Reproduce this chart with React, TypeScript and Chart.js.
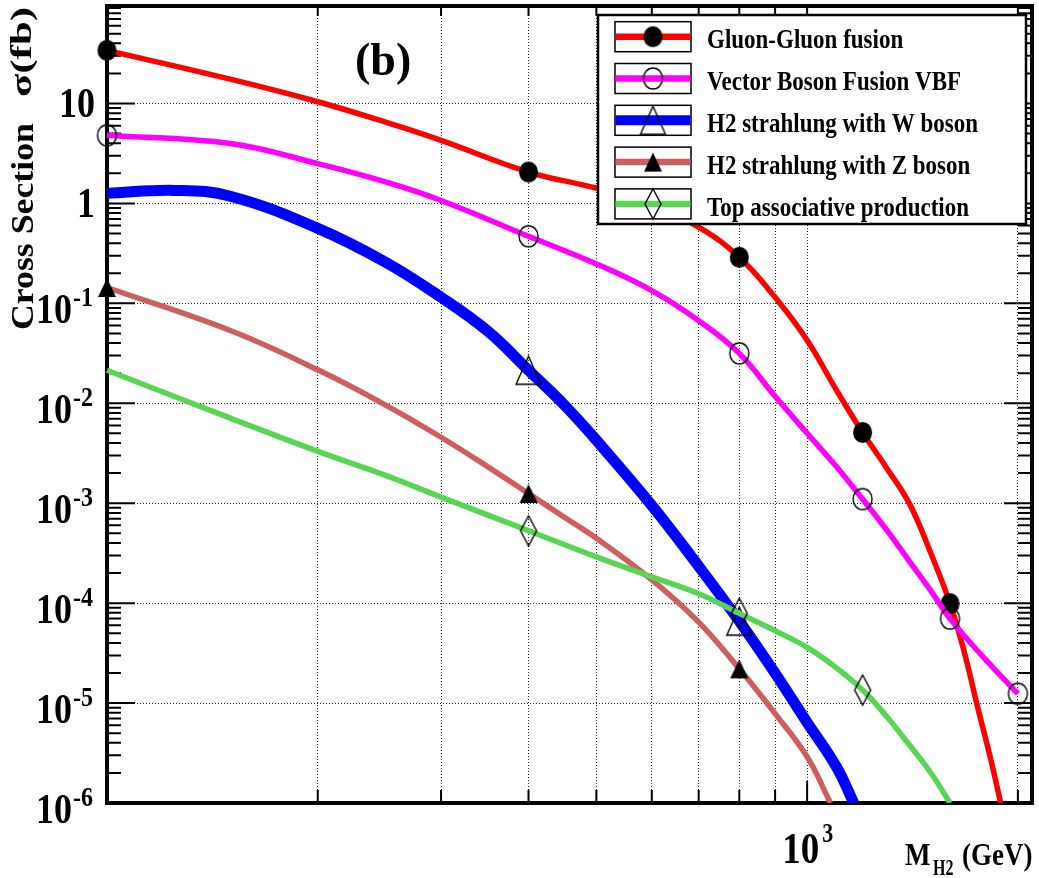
import React, { useEffect, useRef } from 'react';
import { Chart, registerables } from 'chart.js';

Chart.register(...registerables);

const CANVAS_W = 1039;
const CANVAS_H = 878;
const FONT = '"Liberation Serif", "Times New Roman", serif';

// ---- axes ----
const X_MIN = 100;
const X_MAX = 2095;
const Y_MIN = 1e-6;
const Y_MAX = 94.5;

const X_TICKS = [100, 200, 300, 400, 500, 600, 700, 800, 900, 1000, 2000];
const X_MAJOR_TICK = 1000;
const X_LABEL_BASE = '10';
const X_LABEL_EXP = '3';
const X_TITLE_MAIN = 'M';
const X_TITLE_SUB = 'H2';
const X_TITLE_UNIT = '(GeV)';

const Y_DECADES = [1e-6, 1e-5, 1e-4, 1e-3, 1e-2, 1e-1, 1, 10];
const Y_LABEL_BASE = ['10', '10', '10', '10', '10', '10', '1', '10'];
const Y_LABEL_EXP = ['-6', '-5', '-4', '-3', '-2', '-1', '', ''];
const Y_TITLE_MAIN = 'Cross Section';
const Y_TITLE_UNIT = 'σ(fb)';
const PANEL_TAG = '(b)';

// ---- series ----
const LABELS = [
  'Gluon-Gluon fusion',
  'Vector Boson Fusion VBF',
  'H2 strahlung with W boson',
  'H2 strahlung with Z boson',
  'Top associative production',
];

const GGF_MASS = [100, 150, 200, 250, 300, 400, 500, 600, 700, 800, 900, 1000, 1100, 1200, 1300, 1400, 1500, 1600, 1675, 1750, 1830, 1890];
const GGF_XSEC = [34, 17.5, 10.4, 6.5, 4.28, 2.06, 1.42, 0.95, 0.58, 0.289, 0.115, 0.0427, 0.0137, 0.0051, 0.00223, 9.9e-4, 3.23e-4, 9.9e-5, 3.33e-5, 9.4e-6, 2.7e-6, 1e-6];
const GGF_MARKS = [100, 400, 800, 1200, 1600];

const VBF_MASS = [100, 150, 200, 250, 300, 400, 500, 600, 700, 800, 900, 1000, 1100, 1200, 1300, 1400, 1500, 1600, 1800, 2000];
const VBF_XSEC = [4.8, 3.97, 2.5, 1.64, 1.07, 0.469, 0.248, 0.134, 0.067, 0.0316, 0.01175, 0.00501, 0.00234, 0.0011, 5.36e-4, 2.62e-4, 1.35e-4, 7.0e-5, 2.7e-5, 1.24e-5];
const VBF_MARKS = [100, 400, 800, 1200, 1600, 2000];

const WH_MASS = [100, 125, 150, 200, 250, 300, 350, 400, 450, 500, 600, 700, 800, 900, 1000, 1100, 1166];
const WH_XSEC = [1.26, 1.35, 1.18, 0.563, 0.258, 0.115, 0.0525, 0.0214, 9.6e-3, 4.27e-3, 9.5e-4, 2.34e-4, 6.6e-5, 1.99e-5, 6.4e-6, 2.33e-6, 1e-6];
const WH_MARKS = [400, 800];

const ZH_MASS = [100, 150, 200, 250, 300, 350, 400, 450, 500, 600, 700, 800, 900, 1000, 1080];
const ZH_XSEC = [0.144, 0.0535, 0.0216, 9.6e-3, 4.57e-3, 2.31e-3, 1.25e-3, 7.24e-4, 4.46e-4, 1.71e-4, 6.46e-5, 2.2e-5, 7.85e-6, 2.9e-6, 1e-6];
const ZH_MARKS = [100, 400, 800];

const TOP_MASS = [100, 150, 200, 250, 300, 350, 400, 500, 600, 700, 800, 900, 1000, 1100, 1200, 1300, 1400, 1500, 1600];
const TOP_XSEC = [0.0214, 7.1e-3, 3.3e-3, 1.9e-3, 1.15e-3, 7.6e-4, 5.3e-4, 2.9e-4, 1.83e-4, 1.24e-4, 7.9e-5, 5.3e-5, 3.6e-5, 2.26e-5, 1.35e-5, 7.3e-6, 3.8e-6, 2.03e-6, 1e-6];
const TOP_MARKS = [400, 800, 1200];

const COLORS = ['#ff0000', '#ff00ff', '#0000ff', '#cf5e61', '#59d454'];
const LINE_W = [5.5, 5.5, 11, 5.5, 5.5];
const LEGEND_LINE_W = [6.5, 6.5, 10, 6.5, 6.5];
const MARKER_KIND = ['circleFilled', 'circleOpen', 'triOpen', 'triFilled', 'diamondOpen'];

function makeMarker(kind: string): HTMLCanvasElement {
  const c = document.createElement('canvas');
  const pad = 2;
  let w = 19, h = 21;
  if (kind === 'triOpen') { w = 25; h = 28; }
  if (kind === 'triFilled') { w = 18; h = 19; }
  if (kind === 'diamondOpen') { w = 16; h = 30; }
  c.width = w + pad * 2;
  c.height = h + pad * 2;
  const g = c.getContext('2d') as CanvasRenderingContext2D;
  g.strokeStyle = '#000';
  g.fillStyle = '#000';
  g.lineWidth = 1.4;
  g.beginPath();
  const cx = c.width / 2, cy = c.height / 2;
  if (kind === 'circleFilled' || kind === 'circleOpen') {
    g.ellipse(cx, cy, w / 2, h / 2, 0, 0, Math.PI * 2);
  } else if (kind === 'triOpen' || kind === 'triFilled') {
    g.moveTo(cx, pad);
    g.lineTo(pad + w, pad + h);
    g.lineTo(pad, pad + h);
    g.closePath();
  } else {
    g.moveTo(cx, pad);
    g.lineTo(pad + w, cy);
    g.lineTo(cx, pad + h);
    g.lineTo(pad, cy);
    g.closePath();
  }
  if (kind === 'circleFilled' || kind === 'triFilled') g.fill();
  else g.stroke();
  return c;
}

function txt(ctx: CanvasRenderingContext2D, s: string, x: number, y: number, size: number,
  align: CanvasTextAlign = 'left', sy = 1.2, sx = 1) {
  ctx.save();
  ctx.translate(x, y);
  ctx.scale(sx, sy);
  ctx.font = `bold ${size}px ${FONT}`;
  ctx.textAlign = align;
  ctx.textBaseline = 'alphabetic';
  ctx.fillStyle = '#000';
  ctx.fillText(s, 0, 0);
  ctx.restore();
}

function rotFit(ctx: CanvasRenderingContext2D, s: string, xBase: number, yStart: number, yEnd: number, size: number) {
  ctx.save();
  ctx.font = `bold ${size}px ${FONT}`;
  const w = ctx.measureText(s).width;
  const sx = (yStart - yEnd) / w;
  ctx.translate(xBase, yStart);
  ctx.rotate(-Math.PI / 2);
  ctx.scale(sx, 1);
  ctx.textAlign = 'left';
  ctx.textBaseline = 'alphabetic';
  ctx.fillStyle = '#000';
  ctx.fillText(s, 0, 0);
  ctx.restore();
}

export default function App() {
  const ref = useRef<HTMLCanvasElement | null>(null);

  useEffect(() => {
    if (!ref.current) return;
    const markers = MARKER_KIND.map(makeMarker);

    const series = [
      { mass: GGF_MASS, xsec: GGF_XSEC, marks: GGF_MARKS },
      { mass: VBF_MASS, xsec: VBF_XSEC, marks: VBF_MARKS },
      { mass: WH_MASS, xsec: WH_XSEC, marks: WH_MARKS },
      { mass: ZH_MASS, xsec: ZH_XSEC, marks: ZH_MARKS },
      { mass: TOP_MASS, xsec: TOP_XSEC, marks: TOP_MARKS },
    ];

    const yMinor: { v: number; major: boolean }[] = [];
    Y_DECADES.forEach((d) => {
      for (let k = 1; k <= 9; k++) {
        const v = d * k;
        if (v <= Y_MAX) yMinor.push({ v, major: k === 1 });
      }
    });

    const decor = {
      id: 'decor',
      beforeDatasetsDraw(chart: any) {
        const { ctx, chartArea: a, scales } = chart;
        const x = scales.x, y = scales.y;
        ctx.save();
        ctx.strokeStyle = '#000';
        ctx.lineWidth = 2;
        ctx.beginPath();
        yMinor.forEach(({ v, major }) => {
          const py = y.getPixelForValue(v);
          const len = major ? 28 : 14;
          ctx.moveTo(a.left, py); ctx.lineTo(a.left + len, py);
          ctx.moveTo(a.right, py); ctx.lineTo(a.right - len, py);
        });
        X_TICKS.forEach((v) => {
          if (v <= X_MIN) return;
          const px = x.getPixelForValue(v);
          const len = v === X_MAJOR_TICK ? 22 : 13;
          ctx.moveTo(px, a.bottom); ctx.lineTo(px, a.bottom - len);
          ctx.moveTo(px, a.top); ctx.lineTo(px, a.top + 10);
        });
        ctx.stroke();
        ctx.lineWidth = 4;
        ctx.strokeRect(a.left, a.top, a.right - a.left, a.bottom - a.top);
        ctx.restore();
      },
      afterDatasetsDraw(chart: any) {
        const { ctx, chartArea: a, scales } = chart;
        const x = scales.x, y = scales.y;
        // y tick labels
        Y_DECADES.forEach((v, i) => {
          const py = y.getPixelForValue(v);
          if (Y_LABEL_EXP[i]) {
            txt(ctx, Y_LABEL_BASE[i], 72, py + 20, 36, 'right');
            txt(ctx, Y_LABEL_EXP[i], 73, py + 3, 24, 'left', 1.15);
          } else {
            txt(ctx, Y_LABEL_BASE[i], 95, py + 14, 36, 'right');
          }
        });
        // x tick label
        const px = x.getPixelForValue(X_MAJOR_TICK);
        txt(ctx, X_LABEL_BASE, px - 25, a.bottom + 60, 37, 'left');
        txt(ctx, X_LABEL_EXP, px + 15, a.bottom + 39, 22, 'left');
        // x title
        txt(ctx, X_TITLE_MAIN, 905, 865, 27, 'left');
        txt(ctx, X_TITLE_SUB, 933, 875, 16, 'left', 1.4);
        txt(ctx, X_TITLE_UNIT, 962, 865, 27, 'left');
        // y title
        rotFit(ctx, Y_TITLE_MAIN, 33, 330, 123, 32);
        rotFit(ctx, Y_TITLE_UNIT, 31, 97, 7, 30);
        // panel tag
        txt(ctx, PANEL_TAG, 355, 75, 46, 'left', 1.0);
        // legend
        ctx.save();
        ctx.fillStyle = '#fff';
        ctx.fillRect(598, 15, 428, 209);
        ctx.strokeStyle = '#000';
        ctx.lineWidth = 2.5;
        ctx.strokeRect(598, 15, 428, 209);
        LABELS.forEach((lab, i) => {
          const cy = 36.7 + i * 41.8;
          ctx.strokeStyle = '#000';
          ctx.lineWidth = 1.5;
          ctx.strokeRect(615, cy - 15, 76, 30);
          ctx.strokeStyle = COLORS[i];
          ctx.lineWidth = LEGEND_LINE_W[i];
          ctx.beginPath();
          ctx.moveTo(615.5, cy);
          ctx.lineTo(690.5, cy);
          ctx.stroke();
          const m = markers[i];
          ctx.drawImage(m, 653 - m.width / 2, cy - m.height / 2);
          txt(ctx, lab, 707, cy + 11.6, 23, 'left');
        });
        ctx.restore();
      },
    };

    const chart = new Chart(ref.current, {
      type: 'line',
      data: {
        datasets: series.map((s, i) => ({
          label: LABELS[i],
          data: s.mass.map((m, j) => ({ x: m, y: s.xsec[j] })),
          borderColor: COLORS[i],
          backgroundColor: COLORS[i],
          borderWidth: LINE_W[i],
          borderCapStyle: 'butt',
          borderJoinStyle: 'round',
          pointStyle: markers[i],
          pointRadius: (c: any) => (c.raw && s.marks.includes(c.raw.x) ? 8 : 0),
          pointHoverRadius: (c: any) => (c.raw && s.marks.includes(c.raw.x) ? 8 : 0),
          pointBorderWidth: 0,
          tension: 0.4,
          fill: false,
          order: 4 - i,
          clip: { left: 15, right: 15, top: 15, bottom: 0 },
        })) as any,
      },
      options: {
        responsive: false,
        maintainAspectRatio: false,
        animation: false,
        devicePixelRatio: 1,
        events: [],
        layout: { autoPadding: false, padding: { left: 107, right: 7, top: 6, bottom: 75 } },
        plugins: { legend: { display: false }, tooltip: { enabled: false }, title: { display: false } },
        scales: {
          x: {
            type: 'logarithmic',
            min: X_MIN,
            max: X_MAX,
            bounds: 'data',
            afterBuildTicks: (ax: any) => { ax.ticks = X_TICKS.map((v) => ({ value: v })); },
            ticks: { display: false },
            grid: {
              drawTicks: false,
              lineWidth: 1,
              color: (c: any) => (c.tick && c.tick.value > X_MIN ? 'rgba(0,0,0,0.85)' : 'rgba(0,0,0,0)'),
            },
            border: { display: false, dash: [1, 2] },
          },
          y: {
            type: 'logarithmic',
            min: Y_MIN,
            max: Y_MAX,
            bounds: 'data',
            afterBuildTicks: (ax: any) => { ax.ticks = Y_DECADES.map((v) => ({ value: v })); },
            ticks: { display: false },
            grid: {
              drawTicks: false,
              lineWidth: 1,
              color: (c: any) => (c.tick && c.tick.value > Y_MIN ? 'rgba(0,0,0,0.85)' : 'rgba(0,0,0,0)'),
            },
            border: { display: false, dash: [1, 2] },
          },
        },
      } as any,
      plugins: [decor],
    });

    return () => chart.destroy();
  }, []);

  return (
    <div style={{ position: 'absolute', left: 0, top: 0, width: CANVAS_W, height: CANVAS_H, background: '#fff' }}>
      <canvas ref={ref} width={CANVAS_W} height={CANVAS_H} style={{ display: 'block', width: CANVAS_W, height: CANVAS_H }} />
    </div>
  );
}
